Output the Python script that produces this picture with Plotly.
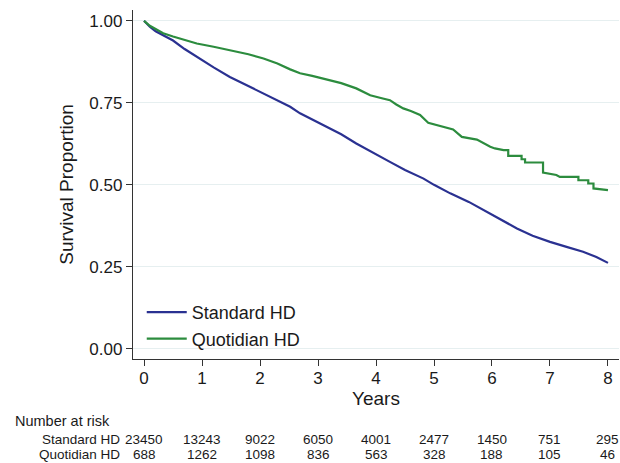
import plotly.graph_objects as go

# ---- data ----
std_t = [0, 0.1, 0.2, 0.33, 0.5, 0.7, 0.91, 1.2, 1.48, 1.8, 2.06, 2.3, 2.52, 2.69,
         3.09, 3.4, 3.66, 4.0, 4.24, 4.5, 4.82, 5.0, 5.28, 5.6, 5.85, 6.1, 6.43,
         6.7, 7.0, 7.3, 7.57, 7.8, 8.0]
std_s = [1.0, 0.982, 0.968, 0.956, 0.94, 0.914, 0.890, 0.858, 0.829, 0.801, 0.779,
         0.757, 0.738, 0.718, 0.682, 0.654, 0.626, 0.592, 0.570, 0.545, 0.519, 0.500,
         0.474, 0.448, 0.423, 0.398, 0.367, 0.345, 0.326, 0.310, 0.296, 0.280, 0.262]

quo_t = [0, 0.1, 0.2, 0.33, 0.5, 0.7, 0.91, 1.2, 1.48, 1.8, 2.06, 2.3, 2.52, 2.69,
         2.9, 3.09, 3.4, 3.66, 3.9, 4.1, 4.24, 4.35, 4.47, 4.6, 4.76, 4.90, 5.16,
         5.33, 5.48, 5.74, 5.97, 6.05, 6.20, 6.28, 6.28, 6.51, 6.51, 6.57, 6.57,
         6.80, 6.88, 6.88, 7.11, 7.17, 7.43, 7.49, 7.49, 7.66, 7.66, 7.75, 7.75, 8.0]
quo_s = [1.0, 0.985, 0.975, 0.962, 0.952, 0.942, 0.931, 0.921, 0.911, 0.898, 0.885,
         0.870, 0.852, 0.840, 0.832, 0.824, 0.810, 0.794, 0.773, 0.764, 0.758, 0.745,
         0.733, 0.725, 0.713, 0.689, 0.677, 0.669, 0.646, 0.638, 0.616, 0.611, 0.606,
         0.606, 0.588, 0.588, 0.578, 0.578, 0.568, 0.568, 0.568, 0.537, 0.530, 0.524,
         0.524, 0.524, 0.514, 0.514, 0.504, 0.504, 0.489, 0.484]

years = [0, 1, 2, 3, 4, 5, 6, 7, 8]
risk_std = ["23450", "13243", "9022", "6050", "4001", "2477", "1450", "751", "295"]
risk_quo = ["688", "1262", "1098", "836", "563", "328", "188", "105", "46"]
y_ticks = [0, 0.25, 0.5, 0.75, 1.0]

BLUE = "#2A3191"
GREEN = "#2C8C3E"
TXT = "#1a1a1a"
FONT = "Liberation Sans, Arial, sans-serif"

W, H = 620, 463
ML, MR, MT, MB = 133, 1, 10, 104
plot_h = H - MT - MB


def py(pix):
    """pixel row -> paper y"""
    return (H - MB - pix) / plot_h


fig = go.Figure()
fig.add_trace(go.Scatter(x=std_t, y=std_s, mode="lines", name="Standard HD",
                         line=dict(color=BLUE, width=2.2)))
fig.add_trace(go.Scatter(x=quo_t, y=quo_s, mode="lines", name="Quotidian HD",
                         line=dict(color=GREEN, width=2.2)))

row_font = dict(size=13.5, color=TXT, family=FONT)
ann = [
    dict(x=0, xref="paper", y=py(421), yref="paper", text="Number at risk",
         showarrow=False, xanchor="left", yanchor="middle",
         font=dict(size=14.5, color=TXT, family=FONT), xshift=13 - ML),
    dict(x=0, xref="paper", y=py(439.5), yref="paper", text="Standard HD",
         showarrow=False, xanchor="right", yanchor="middle", font=row_font,
         xshift=122 - ML),
    dict(x=0, xref="paper", y=py(454.5), yref="paper", text="Quotidian HD",
         showarrow=False, xanchor="right", yanchor="middle", font=row_font,
         xshift=122 - ML),
]
for yr, a, b in zip(years, risk_std, risk_quo):
    ann.append(dict(x=yr, xref="x", y=py(439.5), yref="paper", text=a, showarrow=False,
                    xanchor="center", yanchor="middle", font=row_font))
    ann.append(dict(x=yr, xref="x", y=py(454.5), yref="paper", text=b, showarrow=False,
                    xanchor="center", yanchor="middle", font=row_font))

fig.update_layout(
    width=W, height=H,
    margin=dict(l=ML, r=MR, t=MT, b=MB),
    paper_bgcolor="white", plot_bgcolor="white",
    font=dict(family=FONT, color=TXT, size=17),
    showlegend=True,
    legend=dict(x=0.018, y=py(294), xanchor="left", yanchor="top",
                bgcolor="rgba(0,0,0,0)", font=dict(size=18, color=TXT, family=FONT),
                tracegroupgap=0, itemwidth=40),
    annotations=ann,
    xaxis=dict(range=[-0.19, 8.19], tickvals=years, ticks="outside", ticklen=6,
               tickwidth=1.3, tickcolor="#333", showline=True, linecolor="#333",
               linewidth=1.3, showgrid=False, zeroline=False,
               tickfont=dict(size=17, color=TXT), ticklabelstandoff=-3,
               title=dict(text="Years", font=dict(size=19, color=TXT), standoff=0)),
    yaxis=dict(range=[-0.031, 1.033], tickvals=y_ticks, tickformat=".2f",
               ticks="outside", ticklen=6, tickwidth=1.3, tickcolor="#333",
               showline=True, linecolor="#333", linewidth=1.3,
               showgrid=True, gridcolor="#E6EFF0", gridwidth=1, zeroline=False,
               tickfont=dict(size=17, color=TXT),
               title=dict(text="Survival Proportion", font=dict(size=19, color=TXT),
                          standoff=10)),
)

fig.write_html("out.html")
